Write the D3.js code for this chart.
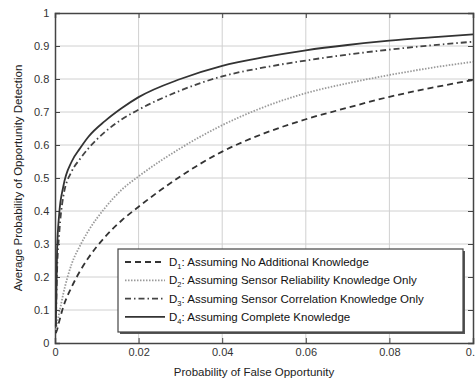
<!DOCTYPE html>
<html>
<head>
<meta charset="utf-8">
<script src="https://cdn.jsdelivr.net/npm/d3@7/dist/d3.min.js"></script>
<style>
  body { margin: 0; background: #fff; }
  svg { font-family: "Liberation Sans", Arial, sans-serif; }
</style>
</head>
<body>
<svg id="chart" width="475" height="379"></svg>
<script>
// false opportunity probability (x) sample points
var pfa = [0.0002, 0.0005, 0.001, 0.002, 0.004, 0.006, 0.008, 0.012, 0.016, 0.02, 0.03, 0.04, 0.05, 0.06, 0.07, 0.08, 0.09, 0.1];

// detection probability for each detector
var d1 = [0.03, 0.04, 0.065, 0.11, 0.17, 0.218, 0.258, 0.322, 0.372, 0.413, 0.505, 0.58, 0.635, 0.678, 0.713, 0.746, 0.773, 0.797];
var d2 = [0.04, 0.06, 0.09, 0.15, 0.24, 0.295, 0.34, 0.41, 0.465, 0.505, 0.59, 0.66, 0.715, 0.757, 0.787, 0.812, 0.834, 0.852];
var d3v = [0.05, 0.22, 0.33, 0.445, 0.52, 0.558, 0.59, 0.64, 0.678, 0.707, 0.765, 0.808, 0.835, 0.856, 0.874, 0.889, 0.902, 0.913];
var d4 = [0.05, 0.28, 0.39, 0.475, 0.55, 0.59, 0.625, 0.673, 0.712, 0.745, 0.80, 0.84, 0.866, 0.887, 0.903, 0.916, 0.926, 0.935];

var xTicks = [0, 0.02, 0.04, 0.06, 0.08, 0.1];
var xTickLabels = ['0', '0.02', '0.04', '0.06', '0.08', '0.1'];
var yTicks = [0, 0.1, 0.2, 0.3, 0.4, 0.5, 0.6, 0.7, 0.8, 0.9, 1];
var yTickLabels = ['0', '0.1', '0.2', '0.3', '0.4', '0.5', '0.6', '0.7', '0.8', '0.9', '1'];

var legendNames = ['1', '2', '3', '4'];
var legendTexts = [': Assuming No Additional Knowledge',
                   ': Assuming Sensor Reliability Knowledge Only',
                   ': Assuming Sensor Correlation Knowledge Only',
                   ': Assuming Complete Knowledge'];

(function () {
    var series = [
        { sub: legendNames[0], text: legendTexts[0], values: d1, color: '#333', dash: '6,4' },
        { sub: legendNames[1], text: legendTexts[1], values: d2, color: '#9a9a9a', dash: '1.5,1.5' },
        { sub: legendNames[2], text: legendTexts[2], values: d3v, color: '#444', dash: '6,3,1.5,3' },
        { sub: legendNames[3], text: legendTexts[3], values: d4, color: '#333', dash: null }
    ];

    var svg = d3.select('#chart');
    var pl = 55, pr = 473, pt = 13, pb = 343;

    var x = d3.scaleLinear().domain([0, 0.1]).range([pl, pr]);
    var y = d3.scaleLinear().domain([0, 1]).range([pb, pt]);

    // grid
    svg.append('g').selectAll('line').data(xTicks.slice(1, -1)).enter().append('line')
        .attr('x1', function (d) { return x(d); }).attr('x2', function (d) { return x(d); })
        .attr('y1', pt).attr('y2', pb)
        .attr('stroke', '#d0d0d0').attr('stroke-width', 1);
    svg.append('g').selectAll('line').data(yTicks.slice(1, -1)).enter().append('line')
        .attr('y1', function (d) { return y(d); }).attr('y2', function (d) { return y(d); })
        .attr('x1', pl).attr('x2', pr)
        .attr('stroke', '#d0d0d0').attr('stroke-width', 1);

    // axes, ticks pointing inward
    var xAxis = d3.axisBottom(x).tickValues(xTicks).tickSize(-5)
        .tickFormat(function (d, i) { return xTickLabels[i]; });
    var yAxis = d3.axisLeft(y).tickValues(yTicks).tickSize(-5)
        .tickFormat(function (d, i) { return yTickLabels[i]; });

    var gx = svg.append('g').attr('transform', 'translate(0,' + pb + ')').call(xAxis);
    var gy = svg.append('g').attr('transform', 'translate(' + pl + ',0)').call(yAxis);
    svg.append('g').attr('transform', 'translate(0,' + pt + ')')
        .call(d3.axisTop(x).tickValues(xTicks).tickSize(-5).tickFormat(''));
    svg.append('g').attr('transform', 'translate(' + pr + ',0)')
        .call(d3.axisRight(y).tickValues(yTicks).tickSize(-5).tickFormat(''));

    svg.selectAll('.domain').attr('stroke', '#444').attr('stroke-width', 1.5);
    svg.selectAll('.tick line').attr('stroke', '#444');
    gx.selectAll('text').attr('font-size', 11).attr('fill', '#333').attr('dy', '0.95em');
    gy.selectAll('text').attr('font-size', 11).attr('fill', '#333').attr('dx', '-0.25em');

    // curves
    var line = d3.line()
        .x(function (d, i) { return x(pfa[i]); })
        .y(function (d) { return y(d); })
        .curve(d3.curveMonotoneX);

    series.forEach(function (s) {
        svg.append('path')
            .attr('d', line(s.values))
            .attr('fill', 'none')
            .attr('stroke', s.color)
            .attr('stroke-width', 1.8)
            .attr('stroke-dasharray', s.dash);
    });

    // legend
    var lg = svg.append('g');
    lg.append('rect').attr('x', 120).attr('y', 251).attr('width', 345).attr('height', 83).attr('fill', '#555');
    lg.append('rect').attr('x', 118).attr('y', 249).attr('width', 345).attr('height', 83)
        .attr('fill', '#fff').attr('stroke', '#444').attr('stroke-width', 1.2);

    series.forEach(function (s, i) {
        var ly = 262 + i * 18.3;
        lg.append('line').attr('x1', 125).attr('x2', 165).attr('y1', ly).attr('y2', ly)
            .attr('stroke', s.color).attr('stroke-width', 1.8).attr('stroke-dasharray', s.dash);
        var t = lg.append('text').attr('x', 169).attr('y', ly + 4)
            .attr('font-size', 11.5).attr('fill', '#111');
        t.append('tspan').text('D');
        t.append('tspan').attr('font-size', 7.5).attr('dy', 3).text(s.sub);
        t.append('tspan').attr('dy', -3).text(s.text);
    });

    // axis labels
    svg.append('text').attr('x', (pl + pr) / 2 - 10).attr('y', 376)
        .attr('text-anchor', 'middle').attr('font-size', 11.5).attr('fill', '#222')
        .text('Probability of False Opportunity');
    svg.append('text').attr('transform', 'translate(22,' + ((pt + pb) / 2) + ') rotate(-90)')
        .attr('text-anchor', 'middle').attr('font-size', 11.5).attr('fill', '#222')
        .text('Average Probability of Opportunity Detection');
})();
</script>
</body>
</html>
